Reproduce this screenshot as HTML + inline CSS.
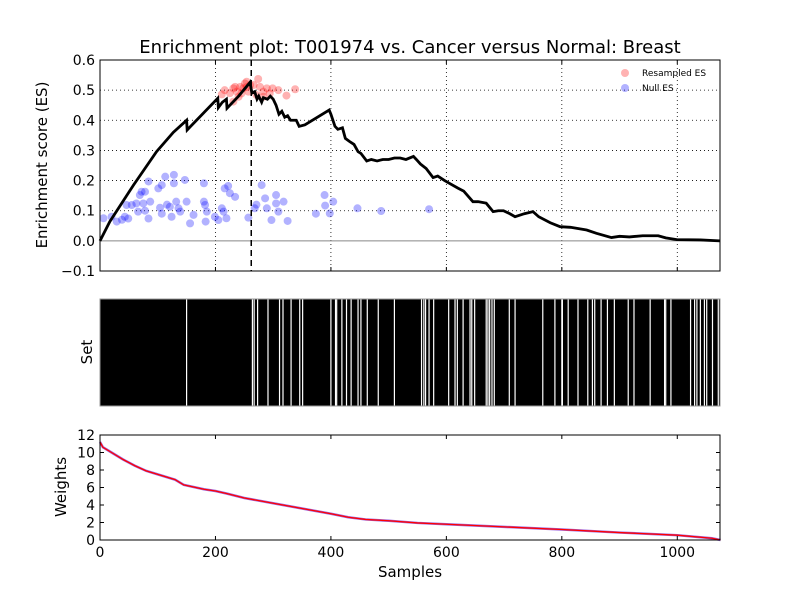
<!DOCTYPE html>
<html><head><meta charset="utf-8"><style>
body{margin:0;background:#fff;}
svg{display:block;font-family:"DejaVu Sans","Liberation Sans",sans-serif;}
</style></head><body>
<svg id="c" width="800" height="600"></svg>
<script>
const esSamples=[0,17,58,98,127,150,151,204,205,212,219,220,240,260,263,268,272,275,280,283,290,295,300,305,310,315,320,325,330,340,345,355,397,400,407,412,420,425,432,440,447,452,462,470,480,490,500,510,520,530,543,548,555,565,577,585,597,606,620,630,646,655,669,681,690,699,710,719,735,750,760,780,797,815,843,860,886,900,917,940,967,980,999,1040,1074];
const esValues=[0,0.064,0.185,0.296,0.36,0.40,0.368,0.473,0.442,0.46,0.47,0.44,0.48,0.526,0.49,0.495,0.47,0.48,0.46,0.475,0.47,0.48,0.47,0.45,0.42,0.43,0.41,0.415,0.40,0.40,0.38,0.385,0.434,0.42,0.38,0.37,0.375,0.34,0.33,0.32,0.296,0.29,0.265,0.27,0.265,0.27,0.27,0.275,0.275,0.27,0.28,0.27,0.255,0.24,0.21,0.215,0.2,0.19,0.175,0.165,0.13,0.13,0.125,0.097,0.1,0.1,0.09,0.08,0.09,0.097,0.08,0.06,0.047,0.045,0.036,0.025,0.011,0.015,0.013,0.017,0.017,0.01,0.004,0.003,0.0];
const nullX=[6,20,29,38,43,49,46,55,63,66,69,75,72,78,84,84,78,87,101,107,104,113,107,116,121,124,128,128,132,136,139,147,150,156,162,180,180,182,185,183,199,205,211,214,216,222,225,234,219,257,268,271,280,286,289,297,305,305,309,318,325,374,389,390,398,404,446,487,570];
const nullY=[0.075,0.08,0.064,0.07,0.08,0.074,0.119,0.119,0.124,0.097,0.152,0.124,0.163,0.163,0.197,0.074,0.1,0.13,0.174,0.185,0.11,0.213,0.09,0.12,0.113,0.08,0.219,0.191,0.13,0.108,0.097,0.202,0.13,0.058,0.086,0.191,0.13,0.119,0.097,0.064,0.08,0.069,0.108,0.097,0.174,0.182,0.158,0.146,0.075,0.077,0.108,0.12,0.185,0.141,0.108,0.069,0.152,0.124,0.097,0.13,0.066,0.09,0.152,0.117,0.091,0.13,0.108,0.099,0.105];
const resX=[216,225,231,237,243,248,251,254,245,257,266,274,277,283,289,294,299,309,323,338,231,240,211,271,283,254,260,234];
const resY=[0.5,0.49,0.506,0.495,0.511,0.506,0.522,0.51,0.489,0.495,0.517,0.537,0.511,0.495,0.506,0.489,0.506,0.5,0.482,0.503,0.462,0.478,0.486,0.484,0.478,0.528,0.517,0.511];
const missSamples=[150,264,267,273,291,311,317,331,346,351,400,408,410,419,427,435,447,452,463,482,510,557,561,564,570,578,604,615,619,629,641,644,649,669,672,675,679,683,709,719,767,788,800,801,811,828,845,853,857,868,879,891,915,925,953,978,980,989,1023,1030,1034,1040,1047,1051,1061,1071];
const wSamples=[0,5,20,40,60,80,100,130,145,180,200,220,250,300,350,400,430,460,500,550,600,700,800,900,1000,1060,1075];
const wValues=[11.2,10.6,10,9.2,8.5,7.9,7.5,6.9,6.3,5.8,5.6,5.3,4.8,4.2,3.6,3.0,2.6,2.35,2.2,1.95,1.8,1.5,1.2,0.85,0.55,0.2,0];
const esTicks=[0.6,0.5,0.4,0.3,0.2,0.1,0.0,-0.1];
const esTickLabels=["0.6","0.5","0.4","0.3","0.2","0.1","0.0","\u22120.1"];
const wTicks=[0,2,4,6,8,10,12];
const xTicks=[0,200,400,600,800,1000];
const peakSample=262;
const NS="http://www.w3.org/2000/svg";
const svg=document.getElementById('c');
function mk(t,a,p){const e=document.createElementNS(NS,t);for(const k in a)e.setAttribute(k,a[k]);(p||svg).appendChild(e);return e;}
const L=100,R=720,XMAX=1074;
const sx=v=>L+(R-L)*v/XMAX;
const T1=60,B1=271,ey=v=>T1+(B1-T1)*(0.6-v)/0.7;
const T2=299,B2=406;
const T3=435,B3=540,wy=v=>B3-(B3-T3)*v/12;

let t=mk('text',{x:410,y:53,'text-anchor':'middle','font-size':18});t.textContent="Enrichment plot: T001974 vs. Cancer versus Normal: Breast";



const g1=mk('g',{});
xTicks.forEach(v=>{if(v>0){const l=mk('line',{x1:sx(v),x2:sx(v),y1:T1,y2:B1,stroke:'#000','stroke-dasharray':'1,3','stroke-width':0.8},g1);}});
esTicks.forEach((v,i)=>{
 if(v<0.59&&v>-0.09&&v!==0){const l=mk('line',{x1:L,x2:R,y1:ey(v),y2:ey(v),stroke:'#000','stroke-dasharray':'1,3','stroke-width':0.8},g1);}
 const tx=mk('text',{x:95,y:ey(v)+5,'text-anchor':'end','font-size':14},g1);tx.textContent=esTickLabels[i];
 
 
});
let zl=mk('line',{x1:L,x2:R,y1:ey(0),y2:ey(0),stroke:'#888','stroke-width':1},g1);

nullX.forEach((v,i)=>{const c=mk('circle',{cx:sx(v),cy:ey(nullY[i]),r:4,fill:'rgba(0,0,255,0.3)'},g1);});
resX.forEach((v,i)=>{const c=mk('circle',{cx:sx(v),cy:ey(resY[i]),r:4,fill:'rgba(255,0,0,0.3)'},g1);});
let pk=mk('line',{x1:sx(peakSample),x2:sx(peakSample),y1:T1,y2:B1,stroke:'#000','stroke-width':1.5,'stroke-dasharray':'6,4'},g1);

let es=mk('polyline',{points:esSamples.map((s,i)=>sx(s)+','+ey(esValues[i])).join(' '),fill:'none',stroke:'#000','stroke-width':2.8,'stroke-linejoin':'miter'},g1);

let f1=mk('rect',{x:L,y:T1,width:R-L,height:B1-T1,fill:'none',stroke:'#000','stroke-width':1},g1);

let yl=mk('text',{transform:'translate(47,165) rotate(-90)','text-anchor':'middle','font-size':15},g1);yl.textContent="Enrichment score (ES)";

let lg=mk('g',{},g1);
mk('circle',{cx:625,cy:73,r:4,fill:'rgba(255,0,0,0.3)'},lg);
let lt=mk('text',{x:642,y:76,'font-size':9},lg);lt.textContent="Resampled ES";

mk('circle',{cx:625,cy:88,r:4,fill:'rgba(0,0,255,0.3)'},lg);
let lt2=mk('text',{x:642,y:91,'font-size':9},lg);lt2.textContent="Null ES";


const g2=mk('g',{});
mk('rect',{x:L,y:T2,width:R-L,height:B2-T2,fill:'#000'},g2);
missSamples.forEach(s=>{const l=mk('line',{x1:sx(s),x2:sx(s),y1:T2,y2:B2,stroke:'#fff','stroke-width':1.2},g2);});
mk('rect',{x:L,y:T2,width:R-L,height:B2-T2,fill:'none',stroke:'#999','stroke-width':1},g2);
let sl=mk('text',{transform:'translate(92,352) rotate(-90)','text-anchor':'middle','font-size':15},g2);sl.textContent="Set";


const g3=mk('g',{});
const wp=wSamples.map((s,i)=>sx(s)+','+wy(wValues[i])).join(' ');
let wb=mk('polyline',{points:wp,fill:'none',stroke:'rgba(90,0,200,0.6)','stroke-width':2.5},g3);

let wr=mk('polyline',{points:wp,fill:'none',stroke:'#f00','stroke-width':1.3},g3);

mk('rect',{x:L,y:T3,width:R-L,height:B3-T3,fill:'none',stroke:'#000','stroke-width':1},g3);
wTicks.forEach(v=>{const tx=mk('text',{x:95,y:wy(v)+5,'text-anchor':'end','font-size':14},g3);tx.textContent=v;
 
 
 mk('line',{x1:L,x2:L+4,y1:wy(v),y2:wy(v),stroke:'#000'},g3);mk('line',{x1:R-4,x2:R,y1:wy(v),y2:wy(v),stroke:'#000'},g3);});
xTicks.forEach(v=>{const tx=mk('text',{x:sx(v),y:557,'text-anchor':'middle','font-size':14},g3);tx.textContent=v;
 
 
 mk('line',{x1:sx(v),x2:sx(v),y1:B3-4,y2:B3,stroke:'#000'},g3);mk('line',{x1:sx(v),x2:sx(v),y1:T3,y2:T3+4,stroke:'#000'},g3);
 mk('line',{x1:sx(v),x2:sx(v),y1:B1-4,y2:B1,stroke:'#000'},g1);mk('line',{x1:sx(v),x2:sx(v),y1:T1,y2:T1+4,stroke:'#000'},g1);});
let wl=mk('text',{transform:'translate(66,487) rotate(-90)','text-anchor':'middle','font-size':15},g3);wl.textContent="Weights";

let xl=mk('text',{x:410,y:577,'text-anchor':'middle','font-size':15},g3);xl.textContent="Samples";

</script>
</body></html>
